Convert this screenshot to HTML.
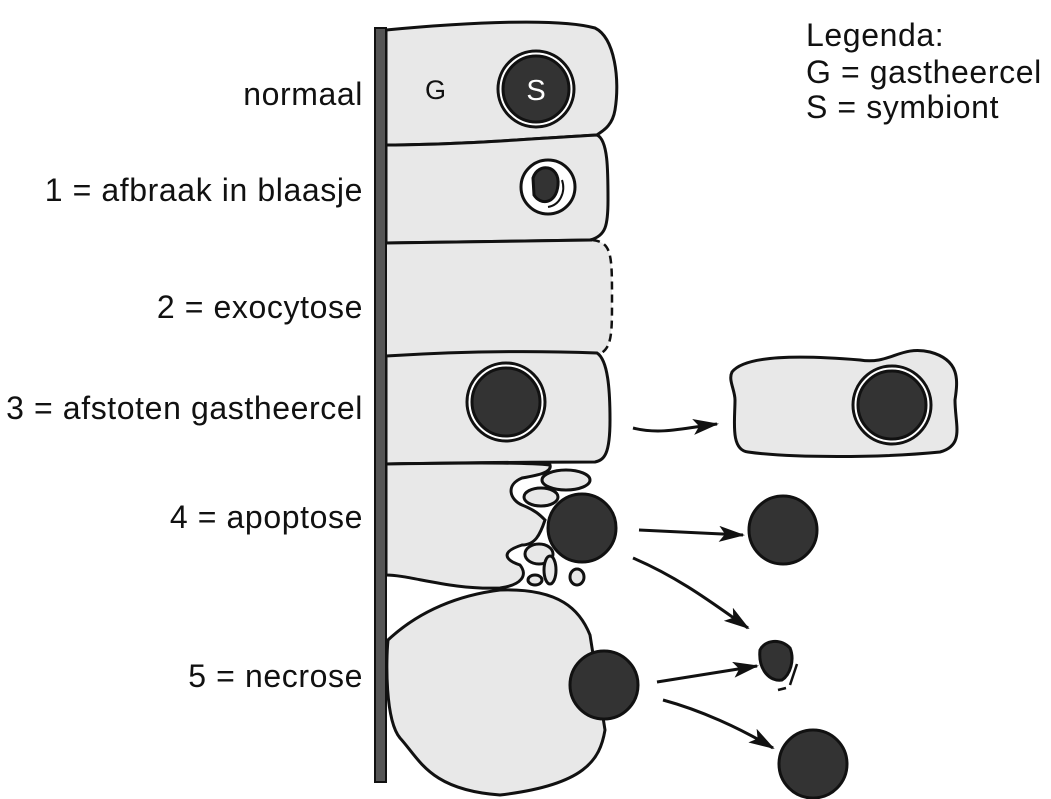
<!DOCTYPE html>
<html><head><style>
html,body{margin:0;padding:0;background:#fff;}
svg{display:block;}
text{font-family:"Liberation Sans",Arial,sans-serif;fill:#111;}
</style></head><body>
<svg width="1051" height="799" viewBox="0 0 1051 799" xmlns="http://www.w3.org/2000/svg">
<defs>
<marker id="ah" markerWidth="26" markerHeight="16" refX="24" refY="8" orient="auto" markerUnits="userSpaceOnUse" viewBox="0 0 26 16">
<path d="M0,0 L26,8 L0,16 L6,8 Z" fill="#111"/></marker>
</defs>
<!-- labels -->
<g font-size="32" text-anchor="end" letter-spacing="0.6">
<text x="363" y="105">normaal</text>
<text x="363" y="201">1 = afbraak in blaasje</text>
<text x="363" y="318">2 = exocytose</text>
<text x="363" y="419">3 = afstoten gastheercel</text>
<text x="363" y="528">4 = apoptose</text>
<text x="363" y="687">5 = necrose</text>
</g>
<g font-size="32" letter-spacing="0.6">
<text x="806" y="46">Legenda:</text>
<text x="806" y="83">G = gastheercel</text>
<text x="806" y="118">S = symbiont</text>
</g>
<g stroke="#111" stroke-width="3" fill="#e8e8e8">
<!-- cell normal -->
<path d="M386,30 C470,22 560,18 595,28 C615,38 620,80 615,110 C612,128 600,132 597,135 C540,138 460,145 386,145 Z"/>
<!-- cell 1 -->
<path d="M386,145 C460,145 540,138 597,135 C608,140 608,170 608,200 C608,225 606,236 590,240 C520,241 450,242 386,243 Z"/>
<!-- cell 2 -->
<path d="M386,243 C450,242 520,241 592,240 C612,242 612,255 612,300 C612,335 612,350 597,355 C520,351 450,352 386,355 Z" stroke="none"/>
<path d="M386,243 C450,242 520,241 592,240" fill="none"/>
<path d="M592,240 C612,242 612,255 612,300 C612,335 612,350 597,355" stroke-dasharray="8,5" fill="none" stroke-width="2.5"/>
<!-- cell 3 -->
<path d="M386,356 C450,352 520,350 597,353 C608,360 610,390 610,420 C610,455 604,460 595,462 C520,462 450,463 386,464 Z"/>
<!-- cell 4 -->
<path d="M386,464 C450,463 520,462 550,465 C552,472 540,475 522,478 C505,485 510,500 522,505 C535,510 540,515 545,520 C540,535 535,545 522,545 C500,552 505,560 520,565 C528,575 522,585 500,588 C450,590 410,575 386,575 Z"/>
<!-- cell 5 -->
<path d="M388,640 C420,610 460,595 500,590 C560,588 580,610 590,635 L605,730 C600,760 585,785 500,795 C430,790 420,760 400,738 C385,720 386,660 388,640 Z"/>
<!-- detached cell -->
<path d="M732,372 C745,355 800,355 860,360 C890,365 900,345 930,352 C960,360 958,380 955,400 C955,425 965,445 940,452 C880,458 790,458 748,452 C730,450 735,420 735,400 C735,390 728,380 732,372 Z"/>
<!-- vesicles -->
<ellipse cx="566" cy="480" rx="24" ry="10"/>
<ellipse cx="541" cy="497" rx="17" ry="9"/>
<ellipse cx="539" cy="554" rx="14" ry="10"/>
<ellipse cx="550" cy="570" rx="6" ry="14"/>
<ellipse cx="535" cy="580" rx="7" ry="5"/>
<ellipse cx="577" cy="577" rx="7" ry="8"/>
</g>
<!-- wall -->
<rect x="375" y="28" width="11" height="754" fill="#555" stroke="#111" stroke-width="2"/>
<text x="425" y="99" font-size="27">G</text>
<!-- symbionts -->
<g stroke="#111" stroke-width="3">
<circle cx="536" cy="89" r="38" fill="#fff"/>
<circle cx="536" cy="89" r="33" fill="#333"/>
<circle cx="548" cy="187" r="27" fill="#fff"/>
<path d="M533,178 C538,162 560,165 558,185 C556,205 540,205 534,195 Z" fill="#333"/>
<path d="M562,180 C566,192 560,205 548,207" fill="none" stroke-width="2"/>
<circle cx="506" cy="402" r="39" fill="#fff"/>
<circle cx="506" cy="402" r="34" fill="#333"/>
<circle cx="892" cy="405" r="39" fill="#fff"/>
<circle cx="892" cy="405" r="34" fill="#333"/>
<circle cx="582" cy="528" r="34" fill="#333"/>
<circle cx="783" cy="530" r="34" fill="#333"/>
<path d="M760,650 C765,640 780,638 790,648 C795,660 790,675 782,680 C770,682 758,670 760,650 Z" fill="#333"/>
<path d="M797,664 L790,685 M786,688 L778,690" fill="none" stroke-width="2.5"/>
<circle cx="604" cy="685" r="34" fill="#333"/>
<circle cx="813" cy="764" r="34" fill="#333"/>
</g>
<text x="536" y="100" font-size="29" text-anchor="middle" style="fill:#fff">S</text>
<!-- arrows -->
<g stroke="#111" stroke-width="3" fill="none" marker-end="url(#ah)">
<path d="M633,428 C660,435 685,428 717,424"/>
<path d="M639,530 L743,535"/>
<path d="M633,558 C680,578 715,605 748,628"/>
<path d="M657,682 L757,666"/>
<path d="M663,700 C700,710 740,728 773,748"/>
</g>
</svg>
</body></html>
